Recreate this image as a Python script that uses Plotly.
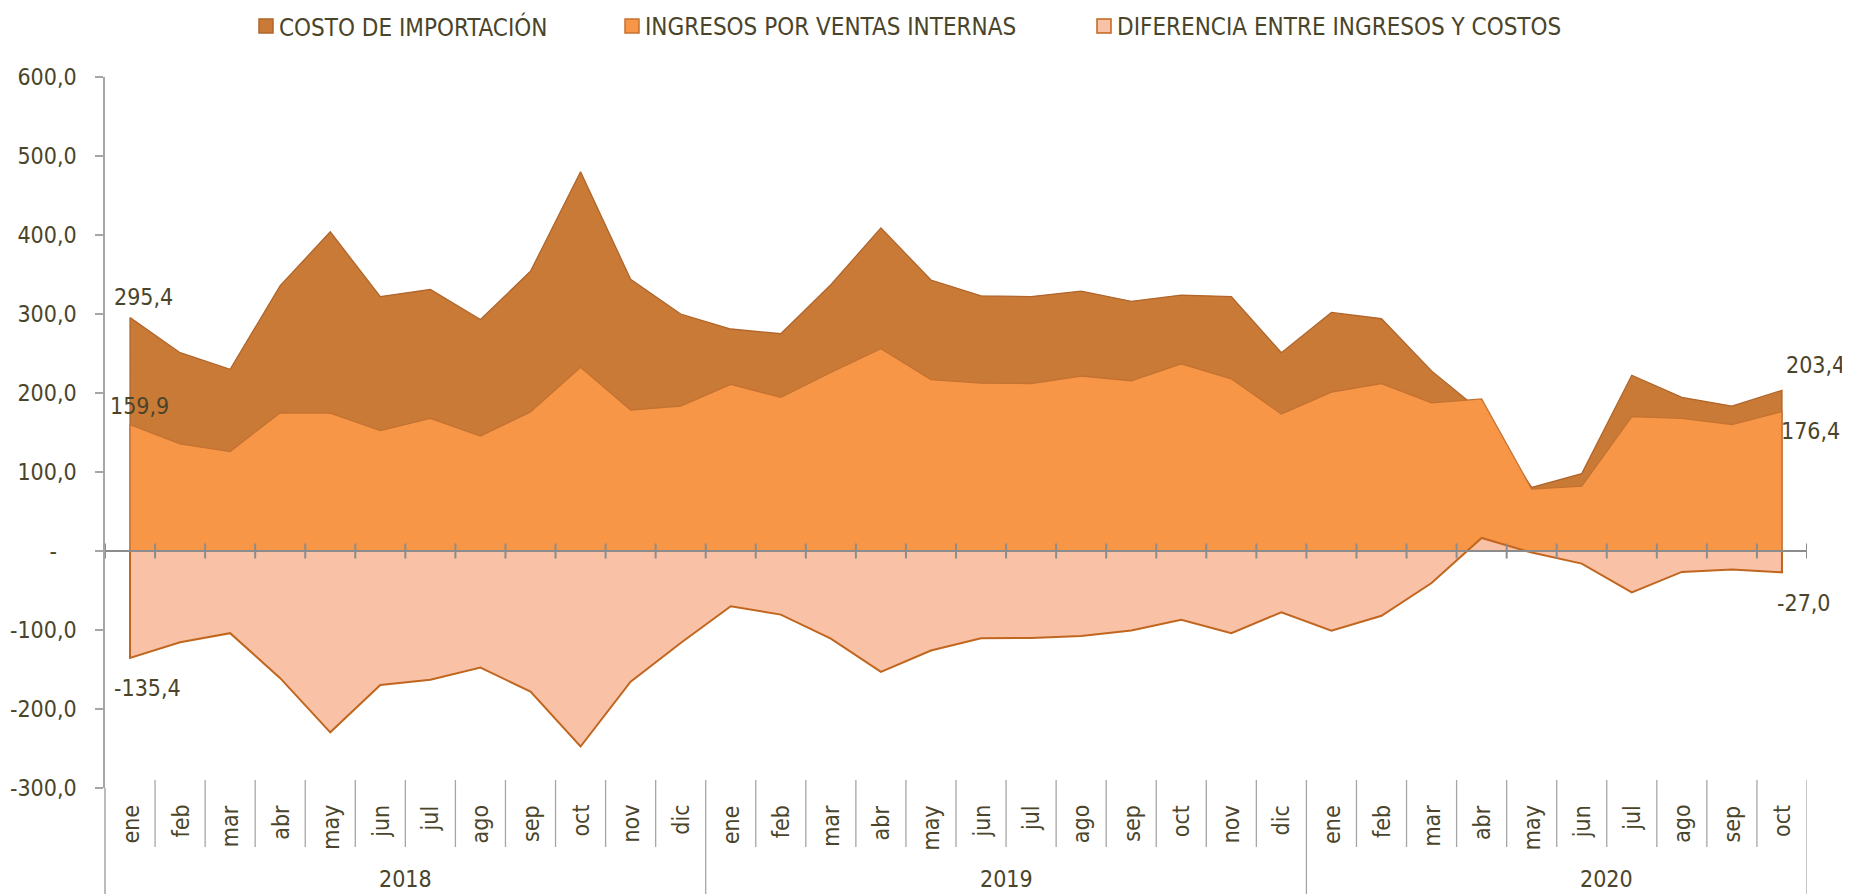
import plotly.graph_objects as go

# ---------------- data ----------------
months = ["ene", "feb", "mar", "abr", "may", "jun", "jul", "ago", "sep", "oct", "nov", "dic",
          "ene", "feb", "mar", "abr", "may", "jun", "jul", "ago", "sep", "oct", "nov", "dic",
          "ene", "feb", "mar", "abr", "may", "jun", "jul", "ago", "sep", "oct"]
years = ["2018", "2019", "2020"]
year_counts = [12, 12, 10]

costo = [295.4, 251.0, 230.0, 336.0, 404.0, 322.0, 331.0, 293.0, 354.0, 480.0, 344.0, 300.0,
         281.0, 275.0, 337.0, 409.0, 343.0, 323.0, 322.0, 329.0, 316.0, 324.0, 322.0, 251.0,
         302.0, 294.0, 228.0, 176.0, 80.5, 98.0, 222.5, 194.5, 183.5, 203.4]
ingresos = [159.9, 135.5, 126.0, 175.0, 174.5, 152.5, 168.0, 145.5, 176.0, 232.5, 178.5, 183.5,
            211.0, 194.5, 226.0, 256.0, 217.0, 212.5, 212.0, 221.5, 215.5, 237.0, 218.0, 173.5,
            201.0, 212.0, 187.5, 192.5, 78.5, 82.0, 170.0, 168.0, 160.0, 176.4]
diferencia = [-135.4, -115.5, -104.0, -161.0, -229.5, -169.5, -163.0, -147.5, -178.0, -247.5, -165.5, -116.5,
              -70.0, -80.5, -111.0, -153.0, -126.0, -110.5, -110.0, -107.5, -100.5, -87.0, -104.0, -77.5,
              -101.0, -82.0, -40.5, 16.5, -2.0, -16.0, -52.5, -26.5, -23.5, -27.0]

series_names = ["COSTO DE IMPORTACIÓN", "INGRESOS POR VENTAS INTERNAS", "DIFERENCIA ENTRE INGRESOS Y COSTOS"]
y_ticks = [-300, -200, -100, 0, 100, 200, 300, 400, 500, 600]

# ---------------- style ----------------
OFF = 8  # page body margin
W, H = 1850 - OFF, 894 - OFF
ML, MT = 105 - OFF, 77 - OFF
MR = W - (1807 - OFF)
MB = H - (788 - OFF)
PW, PH = W - ML - MR, H - MT - MB
TXT = "#4A452A"
NARROW = "DejaVu Sans Condensed, Liberation Sans Narrow, sans-serif"
AXC = "#A6A6A6"
ZC = "#8C8C8C"

fills = ["#C97A36", "#F79646", "#F9C2A7"]
lines = ["#B0652A", "#C47232", "#C0661E"]
lwidths = [1.3, 1.3, 2.0]


def fmt(v):
    return f"{v:.1f}".replace(".", ",")


def px_x(X):  # reference pixel -> paper
    return (X - OFF - ML) / PW


def px_y(Y):
    return (H - MB - (Y - OFF)) / PH


n = len(months)
xs = list(range(n))

fig = go.Figure()
for vals, name, fc, lc, lw in zip([costo, ingresos, diferencia], series_names, fills, lines, lwidths):
    fig.add_trace(go.Scatter(
        x=[xs[0]] + xs + [xs[-1]], y=[0] + vals + [0], name=name,
        mode="lines", fill="tozeroy", fillcolor=fc,
        line=dict(color=lc, width=lw), showlegend=False, hoverinfo="skip"))

shapes = []
shapes.append(dict(type="line", xref="paper", yref="paper", x0=0, x1=0, y0=0, y1=px_y(900),
                   line=dict(color=AXC, width=1.5)))
shapes.append(dict(type="line", xref="paper", yref="y", x0=0, x1=1, y0=0, y1=0,
                   line=dict(color=ZC, width=2), layer="above"))
for k in range(n + 1):
    shapes.append(dict(type="line", xref="x", yref="y", x0=k - 0.5, x1=k - 0.5, y0=-9.5, y1=9.5,
                       line=dict(color=ZC, width=2), layer="above"))
bounds = []
acc = 0
for c in year_counts:
    acc += c
    bounds.append(acc)
for k in range(1, n + 1):
    y1 = px_y(900) if k in bounds else px_y(847)
    shapes.append(dict(type="line", xref="x", yref="paper", x0=k - 0.5, x1=k - 0.5,
                       y0=px_y(780), y1=y1, line=dict(color=AXC, width=1.3)))

annotations = []
for i, m in enumerate(months):
    annotations.append(dict(x=i, y=px_y(803), xref="x", yref="paper", text=m, showarrow=False,
                            textangle=-90, xanchor="center", yanchor="top",
                            font=dict(family=NARROW, size=23, color=TXT)))
start = 0
for yr, c in zip(years, year_counts):
    annotations.append(dict(x=start + (12 - 1) / 2, y=px_y(879), xref="x", yref="paper", text=yr,
                            showarrow=False, xanchor="center", yanchor="middle",
                            font=dict(family=NARROW, size=23, color=TXT)))
    start += c

# data labels (first and last points): (index, value, xshift, yshift, xanchor)
lab = [(0, costo[0], 13, 21, "center"), (0, ingresos[0], 9, 19, "center"),
       (0, diferencia[0], 17, -30, "center"),
       (n - 1, costo[-1], 65, 25, "right"), (n - 1, ingresos[-1], 60, -19, "right"),
       (n - 1, diferencia[-1], 51, -31, "right")]
for xi, v, dx, dy, xa in lab:
    annotations.append(dict(x=xi, y=v, xref="x", yref="y", text=fmt(v), showarrow=False,
                            xshift=dx, yshift=dy, xanchor=xa, yanchor="middle",
                            font=dict(family=NARROW, size=23, color=TXT)))

leg_sq = [259, 625, 1097]
for x0, name, fc, lc in zip(leg_sq, series_names, fills, lines):
    shapes.append(dict(type="rect", xref="paper", yref="paper", x0=px_x(x0), x1=px_x(x0 + 14),
                       y0=px_y(33), y1=px_y(19), fillcolor=fc, line=dict(color=lc, width=1.5)))
    annotations.append(dict(x=px_x(x0 + 18), y=px_y(27), xref="paper", yref="paper", text=name,
                            showarrow=False, xanchor="left", yanchor="middle",
                            font=dict(family=NARROW, size=24, color=TXT)))

fig.update_layout(
    width=W, height=H, margin=dict(l=ML, r=MR, t=MT, b=MB, pad=0, autoexpand=False),
    paper_bgcolor="white", plot_bgcolor="white",
    showlegend=False, shapes=shapes, annotations=annotations,
    xaxis=dict(range=[-0.5, n - 0.5], showticklabels=False, showgrid=False, zeroline=False,
               showline=False, ticks="", fixedrange=True, automargin=False),
    yaxis=dict(range=[-300, 600], tickvals=y_ticks,
               ticktext=[fmt(v) if v != 0 else "-\u00a0\u00a0\u00a0" for v in y_ticks],
               showgrid=False, zeroline=False, showline=True, linecolor=AXC, linewidth=1.5,
               ticks="outside", ticklen=8, tickcolor=AXC, tickwidth=1.5,
               ticklabelstandoff=14, automargin=False,
               tickfont=dict(family=NARROW, size=23, color=TXT), fixedrange=True),
)

fig.write_html("out.html")
